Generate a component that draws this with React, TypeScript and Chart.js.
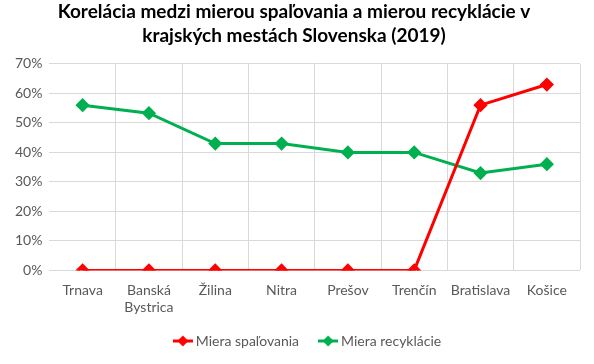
import React, { useEffect, useRef } from "react";
import { Chart, registerables } from "chart.js";

Chart.register(...registerables);

const categories: (string | string[])[] = [
  "Trnava",
  ["Banská", "Bystrica"],
  "Žilina",
  "Nitra",
  "Prešov",
  "Trenčín",
  "Bratislava",
  "Košice",
];
const spalovanie = [0, 0, 0, 0, 0, 0, 0.56, 0.63];
const recyklacia = [0.56, 0.533, 0.43, 0.43, 0.4, 0.4, 0.33, 0.36];
const seriesNames = ["Miera spaľovania", "Miera recyklácie"];
const titleLines = [
  "Korelácia medzi mierou spaľovania a mierou recyklácie v",
  "krajských mestách Slovenska (2019)",
];

const RED = "#ff0000";
const GREEN = "#00b050";
const FONT = "Lato, 'Open Sans', sans-serif";
const X_SHRINK = 17;

function legendIcon(color: string): HTMLCanvasElement {
  const c = document.createElement("canvas");
  c.width = 20;
  c.height = 12;
  const ctx = c.getContext("2d")!;
  ctx.strokeStyle = color;
  ctx.lineWidth = 3;
  ctx.beginPath();
  ctx.moveTo(0, 6);
  ctx.lineTo(20, 6);
  ctx.stroke();
  ctx.fillStyle = color;
  ctx.beginPath();
  ctx.moveTo(10, 0.5);
  ctx.lineTo(15.5, 6);
  ctx.lineTo(10, 11.5);
  ctx.lineTo(4.5, 6);
  ctx.closePath();
  ctx.fill();
  return c;
}

const adjustLayout = {
  id: "adjustLayout",
  afterLayout(chart: any) {
    if (chart.legend) {
      chart.legend.left += 15;
      chart.legend.right += 15;
    }
    const x = chart.scales.x;
    if (x) {
      x.bottom += X_SHRINK;
    }
  },
};

export default function App() {
  const ref = useRef<HTMLCanvasElement | null>(null);

  useEffect(() => {
    document.body.style.margin = "0";
    if (!ref.current) return;
    const icons = [legendIcon(RED), legendIcon(GREEN)];
    const chart = new Chart(ref.current, {
      type: "line",
      data: {
        labels: categories,
        datasets: [
          {
            label: seriesNames[0],
            data: spalovanie,
            borderColor: RED,
            backgroundColor: RED,
            borderWidth: 3,
            pointStyle: "rectRot",
            pointRadius: 5,
            pointHoverRadius: 5,
            tension: 0,
          },
          {
            label: seriesNames[1],
            data: recyklacia,
            borderColor: GREEN,
            backgroundColor: GREEN,
            borderWidth: 3,
            pointStyle: "rectRot",
            pointRadius: 5,
            pointHoverRadius: 5,
            tension: 0,
          },
        ],
      },
      plugins: [adjustLayout],
      options: {
        animation: false,
        responsive: false,
        maintainAspectRatio: false,
        layout: { padding: { left: 8, right: 14, top: 0, bottom: 6 } },
        plugins: {
          title: {
            display: true,
            text: titleLines,
            color: "#000000",
            font: { family: FONT, size: 19, weight: "bold", lineHeight: 1.26 },
            padding: { top: 0, bottom: 16 },
          },
          legend: {
            position: "bottom",
            labels: {
              usePointStyle: true,
              pointStyleWidth: 12,
              color: "#595959",
              font: { family: FONT, size: 14 },
              padding: 23,
              generateLabels: (ch: any) =>
                ch.data.datasets.map((ds: any, i: number) => ({
                  text: ds.label,
                  fillStyle: ds.borderColor,
                  strokeStyle: ds.borderColor,
                  lineWidth: 0,
                  pointStyle: icons[i],
                  hidden: false,
                  datasetIndex: i,
                  fontColor: "#595959",
                })),
            },
          },
          tooltip: { enabled: false },
        },
        scales: {
          x: {
            offset: true,
            afterFit: (s: any) => {
              s.height -= X_SHRINK;
            },
            grid: {
              offset: true,
              drawTicks: false,
              color: (ctx: any) =>
                ctx.index === 0 || ctx.index === categories.length ? "rgba(0,0,0,0)" : "#d9d9d9",
              lineWidth: 1,
            },
            border: { display: false },
            ticks: {
              color: "#595959",
              font: { family: FONT, size: 14 },
              padding: 12,
              maxRotation: 0,
              autoSkip: false,
            },
          },
          y: {
            min: 0,
            max: 0.7,
            grid: { color: "#d9d9d9", drawTicks: false },
            border: { display: false },
            ticks: {
              stepSize: 0.1,
              color: "#595959",
              font: { family: FONT, size: 14 },
              padding: 7,
              callback: (v: any) => Math.round(Number(v) * 100) + "%",
            },
          },
        },
      },
    } as any);
    return () => chart.destroy();
  }, []);

  return (
    <div style={{ width: 594, height: 364 }}>
      <canvas ref={ref} width={594} height={364} style={{ display: "block" }} />
    </div>
  );
}
